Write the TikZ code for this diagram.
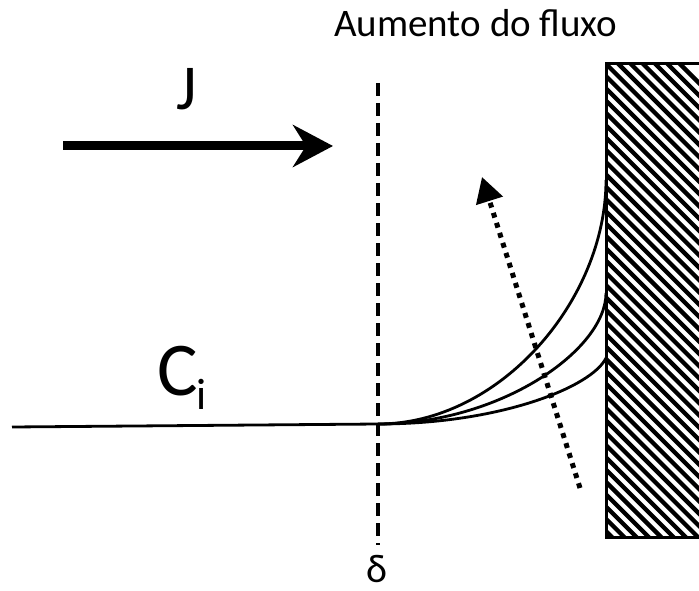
\documentclass[tikz,border=0pt]{standalone}
\usepackage{fontspec}
\setmainfont{Carlito}
\usetikzlibrary{arrows.meta}
\tikzset{
  curveline/.style={line width=2.8pt},
  fluxarrow/.style={line width=9pt,-{Stealth[length=40pt,width=42pt,inset=13pt]}},
  trendarrow/.style={line width=5pt,dash pattern=on 5pt off 5.5pt,-{Triangle[length=25pt,width=27pt]}},
  deltaline/.style={line width=3.2pt,dash pattern=on 13pt off 7pt},
  hatchline/.style={line width=4.3pt},
  label/.style={inner sep=0pt,text=black}
}
\begin{document}
\begin{tikzpicture}[x=1pt,y=-1pt]
\useasboundingbox (0,0) rectangle (699,591);
% coordinates
\coordinate (wallTL) at (606,64);
\coordinate (wallTR) at (730,64);
\coordinate (wallBL) at (606,537);
\coordinate (wallBR) at (730,537);
\coordinate (start) at (12,427);
\coordinate (delta) at (378,424);
\coordinate (dtop) at (378,83);
\coordinate (dbot) at (378,545);
\coordinate (e1) at (606,180);
\coordinate (e2) at (606,293);
\coordinate (e3) at (606,358);
\coordinate (jtail) at (63,146);
\coordinate (jtip) at (333,146);
\coordinate (ttail) at (580,488);
\coordinate (ttip) at (482,177);
% wall with hatching
\begin{scope}
  \clip (wallTL) rectangle (wallBR);
  \foreach \k in {0,...,100} {
    \draw[hatchline] (-560+\k*12.3,54) -- ++(500,500);
  }
\end{scope}
\draw[line width=3pt] (wallTR) -- (wallTL) -- (wallBL) -- (wallBR);
% concentration profile
\draw[curveline] (start) -- (delta);
\draw[curveline] (delta) .. controls (500,424) and (606,300) .. (e1);
\draw[curveline] (delta) .. controls (500,424) and (606,350) .. (e2);
\draw[curveline] (delta) .. controls (500,424) and (592,387) .. (e3);
% boundary layer
\draw[deltaline] (dtop) -- (dbot);
% arrows
\draw[fluxarrow] (jtail) -- (jtip);
\draw[trendarrow] (ttail) -- (ttip);
% labels
\node[label,anchor=base west,font=\fontsize{39}{44}\selectfont] (tit) at (334,37) {Aumento do fluxo};
\node[label,anchor=base,font=\fontsize{64}{70}\selectfont] (J) at (187,110) {J};
\node[label,anchor=base west,font=\fontsize{76}{84}\selectfont] (C) at (157,395) {C};
\node[label,anchor=base west,font=\fontsize{44}{50}\selectfont] (ci) at (196,409) {i};
\node[label,anchor=base,font=\fontsize{40}{44}\selectfont] (dl) at (377,582) {δ};
\end{tikzpicture}
\end{document}
